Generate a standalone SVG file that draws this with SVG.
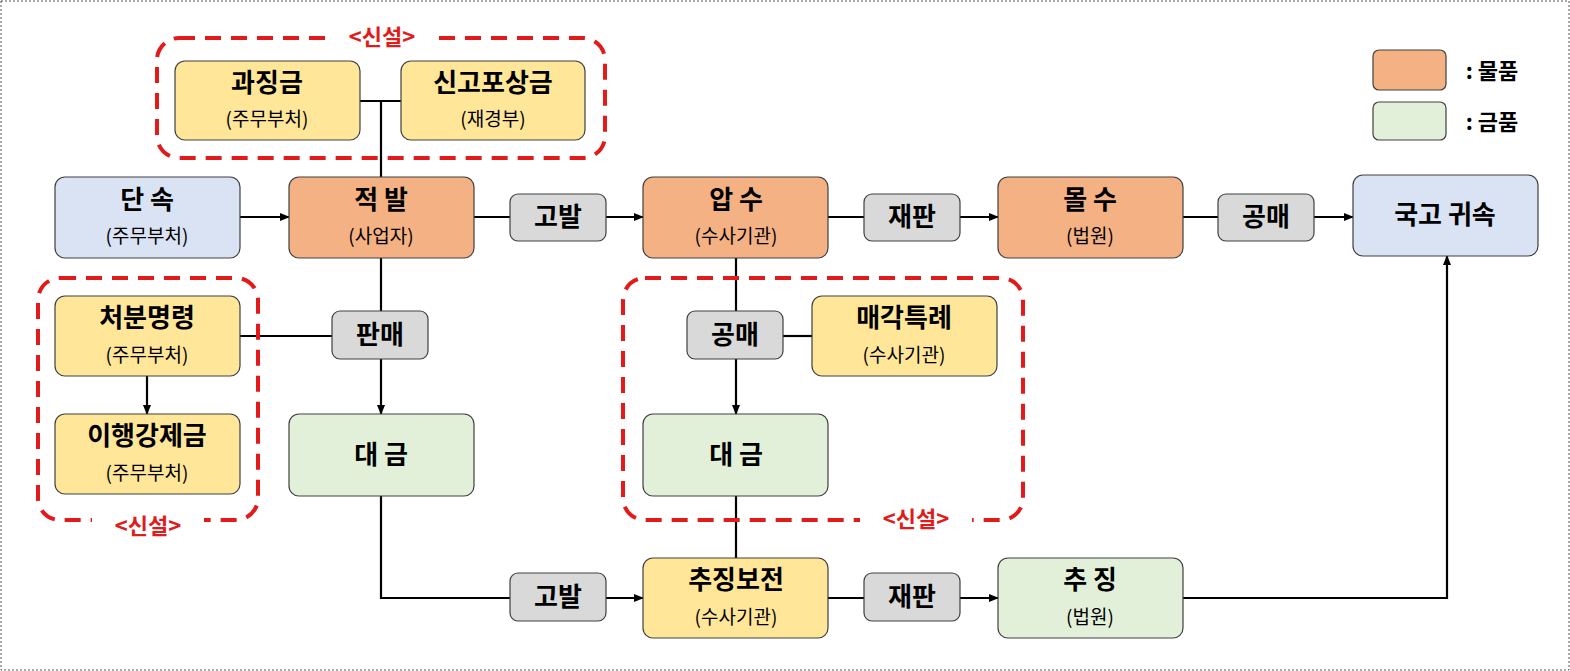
<svg xmlns="http://www.w3.org/2000/svg" width="1570" height="671" viewBox="0 0 1570 671">
<style>
text{font-family:"Noto Sans CJK KR","Noto Sans",sans-serif;text-anchor:middle;fill:#000}
.t{font-size:26px;font-weight:bold}
.s{font-size:19px}
.b{stroke:#404040;stroke-width:1.2}
.y{fill:#FFE699}.o{fill:#F4B183}.g{fill:#E2F0D9}.bl{fill:#DAE3F3}.gr{fill:#D9D9D9}
.c{stroke:#000;stroke-width:2.2;fill:none}
.d{fill:none;stroke:#E31A1A;stroke-width:4;stroke-dasharray:16 10}
.r{fill:#E31A1A;font-size:22px;font-weight:bold}
</style>
<defs><marker id="a" markerWidth="10" markerHeight="10" refX="9" refY="5" orient="auto" markerUnits="userSpaceOnUse"><path d="M0,1 L10,5 L0,9 Z" fill="#000"/></marker></defs>
<rect x="1" y="1" width="1568" height="669" fill="#fff" stroke="#555" stroke-dasharray="2 2"/>
<g id="connectors">
<path class="c" d="M360,101 H401 M381,101 V177"/>
<path class="c" d="M240,217 H289" marker-end="url(#a)"/>
<path class="c" d="M474,217 H643" marker-end="url(#a)"/>
<path class="c" d="M828,217 H998" marker-end="url(#a)"/>
<path class="c" d="M1183,217 H1353" marker-end="url(#a)"/>
<path class="c" d="M381,258 V414" marker-end="url(#a)"/>
<path class="c" d="M240,336 H332"/>
<path class="c" d="M147,376 V414" marker-end="url(#a)"/>
<path class="c" d="M736,258 V414" marker-end="url(#a)"/>
<path class="c" d="M783,336 H812"/>
<path class="c" d="M736,496 V558"/>
<path class="c" d="M381,496 V598 H643" marker-end="url(#a)"/>
<path class="c" d="M828,598 H998" marker-end="url(#a)"/>
<path class="c" d="M1183,598 H1447 V256" marker-end="url(#a)"/>
</g>
<g id="new-top"><rect class="d" x="157" y="38" width="448" height="120" rx="22"/><rect x="325" y="25" width="112" height="26" fill="#fff"/><text class="r" x="382" y="45">&lt;신설&gt;</text></g>
<g id="new-left"><rect class="d" x="38" y="278" width="220" height="242" rx="22"/><rect x="92" y="510" width="112" height="28" fill="#fff"/><text class="r" x="148" y="534">&lt;신설&gt;</text></g>
<g id="new-mid"><rect class="d" x="623" y="278" width="400" height="242" rx="22"/><rect x="860" y="508" width="112" height="26" fill="#fff"/><text class="r" x="916" y="527">&lt;신설&gt;</text></g>
<g id="n1"><rect class="b y" x="175" y="61" width="185" height="79" rx="10"/><text class="t" x="267" y="92">과징금</text><text class="s" x="267" y="126">(주무부처)</text></g>
<g id="n2"><rect class="b y" x="401" y="61" width="184" height="79" rx="10"/><text class="t" x="493" y="92">신고포상금</text><text class="s" x="493" y="126">(재경부)</text></g>
<g id="n3"><rect class="b bl" x="55" y="177" width="185" height="81" rx="10"/><text class="t" x="147" y="209">단 속</text><text class="s" x="147" y="243">(주무부처)</text></g>
<g id="n4"><rect class="b o" x="289" y="177" width="185" height="81" rx="10"/><text class="t" x="381" y="209">적 발</text><text class="s" x="381" y="243">(사업자)</text></g>
<g id="n5"><rect class="b gr" x="510" y="194" width="96" height="47" rx="8"/><text class="t" x="558" y="226">고발</text></g>
<g id="n6"><rect class="b o" x="643" y="177" width="185" height="81" rx="10"/><text class="t" x="736" y="209">압 수</text><text class="s" x="736" y="243">(수사기관)</text></g>
<g id="n7"><rect class="b gr" x="864" y="194" width="96" height="47" rx="8"/><text class="t" x="912" y="226">재판</text></g>
<g id="n8"><rect class="b o" x="998" y="177" width="185" height="81" rx="10"/><text class="t" x="1090" y="209">몰 수</text><text class="s" x="1090" y="243">(법원)</text></g>
<g id="n9"><rect class="b gr" x="1218" y="194" width="96" height="47" rx="8"/><text class="t" x="1266" y="226">공매</text></g>
<g id="n10"><rect class="b bl" x="1353" y="175" width="185" height="81" rx="10"/><text class="t" x="1445" y="224">국고 귀속</text></g>
<g id="legend"><rect class="b o" x="1373" y="50" width="73" height="40" rx="6"/><text class="t" x="1492" y="79" style="font-size:22px">: 물품</text><rect class="b g" x="1373" y="102" width="73" height="38" rx="6"/><text class="t" x="1492" y="130" style="font-size:22px">: 금품</text></g>
<g id="n11"><rect class="b y" x="55" y="296" width="185" height="80" rx="10"/><text class="t" x="147" y="327">처분명령</text><text class="s" x="147" y="362">(주무부처)</text></g>
<g id="n12"><rect class="b gr" x="332" y="311" width="96" height="48" rx="8"/><text class="t" x="380" y="344">판매</text></g>
<g id="n13"><rect class="b y" x="55" y="414" width="185" height="80" rx="10"/><text class="t" x="147" y="445">이행강제금</text><text class="s" x="147" y="480">(주무부처)</text></g>
<g id="n14"><rect class="b g" x="289" y="414" width="185" height="82" rx="10"/><text class="t" x="381" y="464">대 금</text></g>
<g id="n15"><rect class="b gr" x="687" y="311" width="96" height="48" rx="8"/><text class="t" x="735" y="344">공매</text></g>
<g id="n16"><rect class="b y" x="812" y="296" width="185" height="80" rx="10"/><text class="t" x="904" y="327">매각특례</text><text class="s" x="904" y="362">(수사기관)</text></g>
<g id="n17"><rect class="b g" x="643" y="414" width="185" height="82" rx="10"/><text class="t" x="736" y="464">대 금</text></g>
<g id="n18"><rect class="b gr" x="510" y="573" width="96" height="48" rx="8"/><text class="t" x="558" y="606">고발</text></g>
<g id="n19"><rect class="b y" x="643" y="558" width="185" height="80" rx="10"/><text class="t" x="736" y="589">추징보전</text><text class="s" x="736" y="624">(수사기관)</text></g>
<g id="n20"><rect class="b gr" x="864" y="573" width="96" height="48" rx="8"/><text class="t" x="912" y="606">재판</text></g>
<g id="n21"><rect class="b g" x="998" y="558" width="185" height="80" rx="10"/><text class="t" x="1090" y="589">추 징</text><text class="s" x="1090" y="624">(법원)</text></g>
</svg>
